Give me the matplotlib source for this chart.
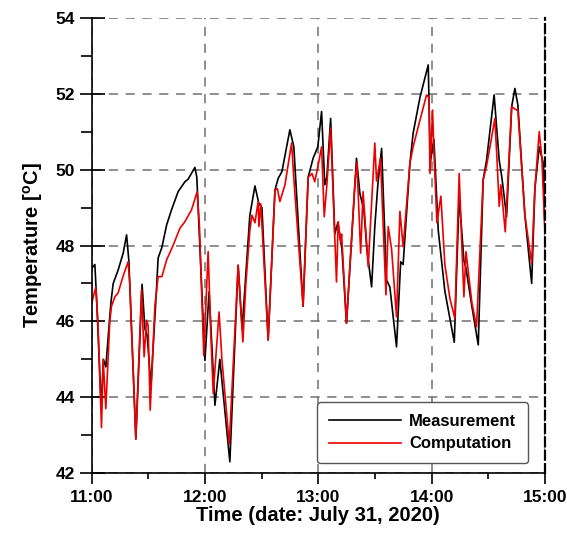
import matplotlib
matplotlib.use("Agg")
import matplotlib.pyplot as plt
from matplotlib.ticker import MultipleLocator

plt.rcParams['font.family'] = ['Liberation Sans', 'DejaVu Sans']
plt.rcParams['font.weight'] = 'bold'
plt.rcParams['axes.labelweight'] = 'bold'
plt.rcParams['mathtext.fontset'] = 'custom'
plt.rcParams['mathtext.rm'] = 'Liberation Sans:bold'
plt.rcParams['mathtext.bf'] = 'Liberation Sans:bold'

# minutes after 11:00, temperature in degC
meas_t = [0, 1.6, 2.6, 5.0, 6.1, 7.4, 10.1, 11.3, 13.9, 16.6, 18.4, 19.6, 23.3,
          26.6, 28.1, 29.3, 31.3, 34.3, 35.1, 37.1, 39.6, 42.2, 45.7, 49.3, 51.0,
          54.6, 55.6, 59.9, 62.1, 65.2, 67.8, 73.1, 77.5, 79.6, 83.7, 86.4, 88.5,
          90.1, 93.4, 97.0, 98.7, 100.7, 104.9, 107.0, 111.9, 114.6, 117.2, 119.7,
          121.7, 123.4, 124.5, 126.5, 128.7, 130.3, 132.5, 134.9, 140.2, 142.0,
          144.1, 145.7, 148.2, 149.9, 151.5, 153.5, 156.1, 157.9, 161.4, 163.6,
          164.9, 168.5, 170.2, 173.8, 178.2, 179.3, 181.2, 183.5, 187.0, 192.0,
          194.6, 197.1, 198.2, 201.3, 204.7, 207.3, 209.1, 213.1, 215.8, 217.2,
          219.7, 222.4, 224.1, 225.7, 229.4, 233.0, 234.7, 237.0, 239.0, 240.0]
meas_T = [47.4, 47.5, 46.5, 43.7, 45.0, 44.8, 46.5, 47.0, 47.35, 47.8, 48.28, 47.6, 42.9,
          46.98, 45.8, 45.63, 44.3, 46.9, 47.67, 47.95, 48.54, 48.94, 49.42, 49.68, 49.75,
          50.06, 49.8, 44.97, 46.78, 43.79, 45.0, 42.3, 47.48, 45.8, 48.8, 49.57, 49.1,
          49.0, 45.51, 49.46, 49.77, 49.95, 51.05, 50.6, 46.4, 49.8, 50.3, 50.6,
          51.53, 49.6, 49.8, 51.35, 48.3, 48.6, 47.9, 45.95, 50.3, 49.37,
          48.94, 47.9, 46.91, 48.5, 49.6, 50.56, 47.1, 46.9, 45.33, 47.57,
          47.5, 50.17, 50.96, 51.9, 52.76, 50.2, 50.8, 48.4, 46.8, 45.45,
          49.29, 47.6, 47.4, 46.4, 45.38, 49.73, 50.25, 51.97, 50.25, 49.8,
          48.76, 51.66, 52.14, 51.7, 48.8, 47.0, 49.5, 50.6, 50.2, 48.5]

comp_t = [0, 2.1, 3.2, 5.1, 6.0, 7.4, 9.5, 10.4, 12.2, 13.9, 16.6, 19.2, 20.1, 23.3,
          26.3, 27.7, 29.0, 29.8, 30.9, 33.4, 35.1, 37.1, 39.6, 43.1, 46.6, 49.3,
          52.8, 55.8, 57.0, 59.3, 61.6, 63.0, 64.3, 67.4, 68.9, 72.8, 77.5, 80.0,
          81.6, 83.7, 84.8, 86.4, 88.1, 88.5, 89.5, 93.4, 97.0, 98.3, 99.6, 102.3,
          105.8, 107.0, 111.9, 114.6, 116.6, 118.1, 120.2, 121.7, 123.1, 124.5,
          126.5, 129.6, 130.5, 131.8, 132.3, 134.9, 139.3, 140.4, 142.4, 143.7,
          146.4, 149.9, 150.8, 152.9, 155.8, 157.0, 158.8, 161.4, 163.2, 164.9,
          168.5, 170.2, 173.8, 177.3, 178.6, 179.1, 180.5, 181.2, 182.8, 184.9,
          187.0, 189.7, 192.3, 194.6, 196.0, 197.1, 198.2, 201.3, 203.8, 207.3,
          209.1, 210.9, 213.5, 214.6, 215.8, 216.7, 219.0, 222.4, 224.1, 225.7,
          229.4, 233.0, 234.7, 237.0, 238.4, 240.0]
comp_T = [46.5, 46.9, 46.0, 43.2, 45.0, 43.7, 46.0, 46.4, 46.65, 46.75, 47.2, 47.57, 47.0, 42.9,
          46.83, 45.07, 46.03, 45.9, 43.66, 46.4, 47.18, 47.18, 47.62, 48.01, 48.45, 48.63,
          48.94, 49.42, 48.5, 45.1, 47.84, 45.7, 44.1, 46.25, 45.0, 42.77, 47.48, 45.46,
          47.0, 48.4, 48.8, 48.6, 49.16, 48.5, 49.1, 45.51, 49.46, 49.5, 49.16, 49.6,
          50.7, 49.77, 46.4, 49.8, 49.9, 49.68, 50.2, 50.6, 48.76, 49.6,
          51.1, 47.04, 48.63, 48.1, 48.3, 45.95, 49.6, 50.2, 47.8, 49.42,
          47.44, 50.7, 49.7, 50.3, 46.7, 48.5, 47.9, 46.12, 48.9, 47.97,
          50.17, 50.6, 51.3, 51.97, 51.9, 49.9, 51.57, 50.5, 48.6, 49.3,
          47.5, 46.6, 46.08, 49.9, 48.0, 46.65, 47.84, 46.5, 45.86, 49.73,
          50.1, 50.6, 51.35, 50.3, 49.03, 49.6, 48.36, 51.66, 51.6, 51.55,
          48.8, 47.53, 49.5, 51.0, 50.3, 48.4]

hour_ticks = [0, 60, 120, 180, 240]
hour_labels = ['11:00', '12:00', '13:00', '14:00', '15:00']

fig = plt.figure(figsize=(5.67, 5.42), dpi=100)
ax = fig.add_axes([0.162, 0.127, 0.799, 0.840])

ax.plot(meas_t, meas_T, color='black', lw=1.2, label='Measurement')
ax.plot(comp_t, comp_T, color='#ee0000', lw=1.2, label='Computation')

ax.set_xlim(0, 240)
ax.set_ylim(42, 54)
ax.set_xticks(hour_ticks)
ax.set_xticklabels(hour_labels)
ax.xaxis.set_minor_locator(MultipleLocator(30))
ax.yaxis.set_major_locator(MultipleLocator(2))
ax.yaxis.set_minor_locator(MultipleLocator(1))

ax.tick_params(axis='x', which='major', direction='out', length=8, width=1.2,
               labelsize=12.5, pad=4)
ax.tick_params(axis='x', which='minor', direction='out', length=4, width=1.2)
ax.tick_params(axis='y', which='major', direction='inout', length=18, width=1.2,
               labelsize=12.5, pad=3)
ax.tick_params(axis='y', which='minor', direction='out', length=8, width=1.2)

ax.grid(True, which='major', color='#707070', ls=(0, (6, 5)), lw=1.1)

ax.spines['top'].set_visible(False)
ax.spines['right'].set_linestyle((0, (4, 2)))
ax.spines['right'].set_linewidth(1.6)
ax.spines['left'].set_linewidth(1.2)
ax.spines['bottom'].set_linewidth(1.2)

ax.set_xlabel('Time (date: July 31, 2020)', fontsize=14.5, fontweight='bold', labelpad=1)
ax.set_ylabel(r'Temperature [$^{\mathbf{o}}$C]', fontsize=14.5, fontweight='bold', labelpad=8)

leg = ax.legend(loc='lower right', bbox_to_anchor=(0.9625, 0.022), borderaxespad=0,
                fontsize=12, handlelength=4.3, handletextpad=0.5, labelspacing=0.45,
                fancybox=True, framealpha=1, borderpad=0.7)
leg.get_frame().set_edgecolor('#555555')
leg.get_frame().set_linewidth(1.0)

fig.savefig('out.png', dpi=100)
